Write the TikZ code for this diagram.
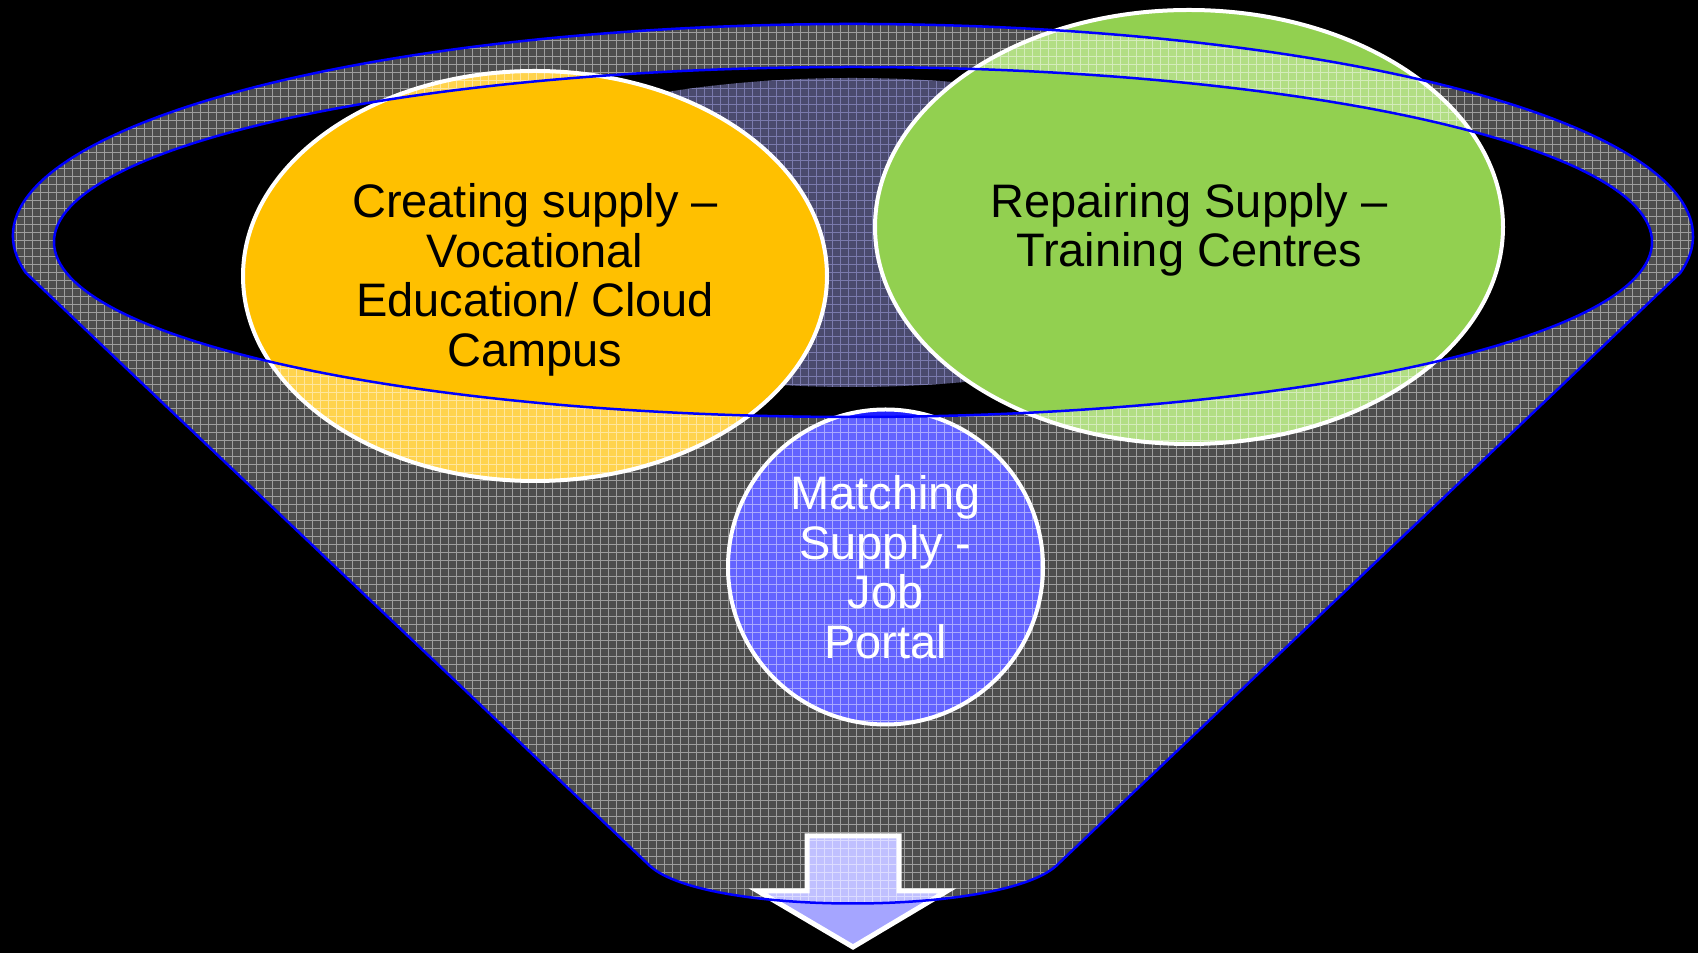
\documentclass[tikz,border=0pt]{standalone}
\usepackage{fontspec}
\setmainfont{Liberation Sans}
\usetikzlibrary{shapes.geometric}
\definecolor{orangefill}{HTML}{FFC000}
\definecolor{greenfill}{HTML}{92D050}
\definecolor{bluefill}{HTML}{2020FF}
\definecolor{darkell}{HTML}{4A4A6E}
\definecolor{lav}{HTML}{9A9AD8}
\definecolor{arrowfill}{HTML}{A5A5FF}
\definecolor{rimblue}{HTML}{0000FF}
\def\funnelpath{(25.8,680.2) arc[start angle=190,end angle=-10,x radius=840,y radius=212] -- (1056,87) .. controls (1000,37) and (705,37) .. (650,87) -- cycle (853,711) ellipse[x radius=799,y radius=175]}
\begin{document}
\begin{tikzpicture}[x=1pt,y=1pt,
  bubble/.style={ellipse,draw=white,line width=4pt,inner sep=0pt},
  btext/.style={font=\fontsize{47}{49.5}\selectfont,align=center},
  rim/.style={draw=rimblue,line width=2.5pt}]
\useasboundingbox (0,0) rectangle (1698,953);
\fill[black] (0,0) rectangle (1698,953);
% dark inner ellipse
\fill[darkell] (852,720.5) ellipse[x radius=445,y radius=154.5];
\begin{scope}
  \clip (852,720.5) ellipse[x radius=445,y radius=154.5];
  \draw[lav,line width=1pt,opacity=0.6,step=8] (400,560) grid (1300,880);
\end{scope}
% bubbles
\node[bubble,fill=orangefill,minimum width=584,minimum height=410,btext,text=black] (create) at (535,677) {};
\node[btext,text=black] (createtxt) at (535,673)
  {Creating supply --\\Vocational\\Education/ Cloud\\Campus};
\node[bubble,fill=greenfill,minimum width=628,minimum height=434] (repair) at (1189,726) {};
\node[btext,text=black] (repairtxt) at (1189,723)
  {Repairing Supply --\\Training Centres};
\node[bubble,fill=bluefill,minimum width=315,minimum height=315,btext,text=white] (match) at (885.5,386)
  {Matching\\Supply -\\Job\\Portal};
% arrow
\draw[white,line width=5pt,fill=arrowfill,line join=miter]
  (807,117) -- (899,117) -- (899,62) -- (947,62) -- (853,6) -- (758,62) -- (807,62) -- cycle;
% funnel overlay
\path[fill=white,fill opacity=0.3,even odd rule] \funnelpath;
\begin{scope}[even odd rule]
  \clip \funnelpath;
  \draw[white,line width=1pt,opacity=0.45,step=8] (0,0) grid (1698,953);
\end{scope}
\draw[rim] \funnelpath;
\end{tikzpicture}
\end{document}
